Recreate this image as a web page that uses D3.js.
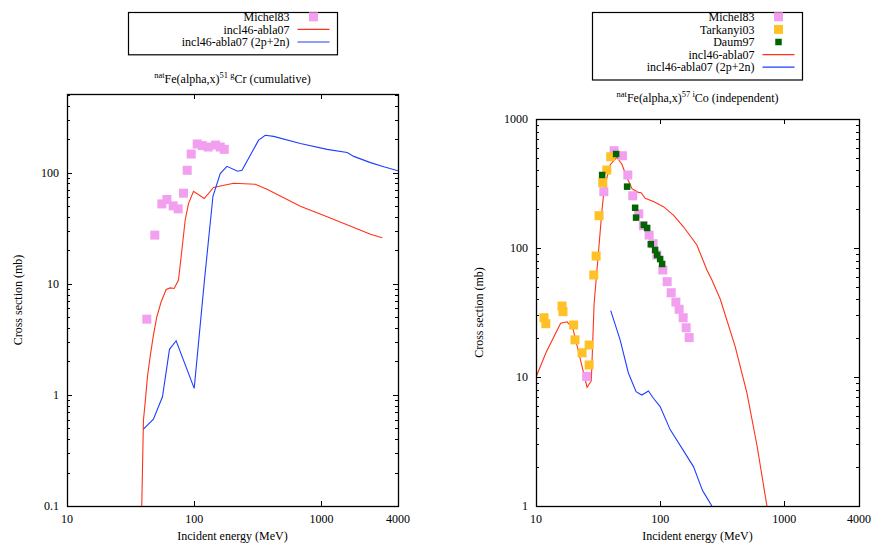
<!DOCTYPE html>
<html>
<head>
<meta charset="utf-8">
<script src="https://cdn.jsdelivr.net/npm/d3@7"></script>
<style>
  html, body { margin: 0; padding: 0; background: #fff; }
  svg { display: block; }
  svg text { font-family: "Liberation Serif", "Times New Roman", Times, "DejaVu Serif", serif; fill: #000; }
</style>
</head>
<body>
<svg id="chart" width="872" height="545" font-family="Liberation Serif, Times New Roman, serif"></svg>
<script>
// ---------------- DATA ----------------
// x ticks (incident energy, MeV)
const xTickValues = [10, 100, 1000, 4000];
const xTickLabels = ["10", "100", "1000", "4000"];
// y ticks
const crYTickValues = [0.1, 1, 10, 100];
const crYTickLabels = ["0.1", "1", "10", "100"];
const coYTickValues = [1, 10, 100, 1000];
const coYTickLabels = ["1", "10", "100", "1000"];

// Left panel: natFe(alpha,x)51gCr (cumulative)   [energy MeV, cross section mb]
const crMichel83 = [[42.4,4.8],[49.0,27.4],[55.7,52.3],[61.0,57.3],[68.3,50.2],[74.8,47.2],[82.4,65.3],[88.1,105],[94.7,147],[105.6,181],[115.6,175],[128.9,170],[147.1,177],[160.2,170],[172.3,162]];
const crIncl = [[38.7,0.1],[39.2,0.211],[39.9,0.593],[41.1,0.839],[42.9,1.455],[45.0,2.2],[47.8,3.45],[50.8,5.04],[55.0,6.88],[60.2,8.89],[64.7,9.18],[69.6,9.07],[75.2,10.8],[80.0,20.0],[84.9,37.3],[90.2,52.7],[98.7,68.0],[119.9,58.5],[141.9,73.5],[203.9,80.3],[302,78.7],[373.6,70.9],[683,49.9],[1109,40.0],[1797,32.1],[2431,27.9],[3006,25.9]];
const crIncl2p2n = [[39.9,0.492],[47.8,0.605],[56.3,0.961],[63.9,2.57],[72.1,3.07],[100,1.144],[120.5,10.9],[140.4,61.3],[160.2,98.2],[180.9,114],[219.3,103],[237.5,105],[320.8,196],[362.3,217],[421.2,212],[683,183],[1109,162],[1594,152],[1797,140],[2431,123],[3095,113],[4000,104]];

// Right panel: natFe(alpha,x)57iCo (independent)
const coMichel83 = [[25.6,10.1],[35.2,273],[42.6,568],[49.7,519],[54.9,368],[60.2,254],[67.3,184],[73.3,149],[81.5,126],[87.8,108],[94.1,88.3],[105.1,67.5],[113.9,54.8],[122.7,45.0],[133.9,38.1],[142.3,33.5],[153.3,28.8],[162.1,24.1],[171.4,20.2]];
const coTarkanyi03 = [[11.6,28.8],[12.0,25.9],[16.2,35.5],[16.5,32.1],[20.1,25.3],[20.6,19.4],[23.5,15.4],[26.8,17.7],[26.8,12.4],[29.2,61.8],[30.5,86.7],[32.2,178],[34.5,321],[37.2,402],[40.0,510]];
const coDaum97 = [[34.1,368],[44.2,535],[54.2,299],[62.9,205],[64.0,172],[73.9,151],[78.6,143],[84.1,107],[91.1,96.5],[94.6,88.3],[100,82.1],[103.8,75.2]];
const coIncl = [[10.0,9.95],[12.0,15.35],[15.8,26.1],[17.8,26.8],[19.8,23.9],[25.8,8.32],[27.9,9.36],[29.4,37.5],[31.0,67.5],[33.9,190],[35.0,258],[36.7,331],[39.5,440],[44.7,505],[49.1,448],[54.2,349],[59.5,287],[66.8,270],[70.3,268],[75.7,243],[88.3,229],[106.3,209],[128.0,180],[154.1,146],[197.7,105.5],[238.1,67.5],[261.2,56.5],[304.7,40.2],[402.5,17.2],[500,7.52],[602,2.97],[725,1.0]];
const coIncl2p2n = [[40.0,32.7],[47.6,19.4],[55.5,10.74],[64.0,7.69],[71.2,7.25],[80.5,7.79],[88.3,6.84],[100,5.89],[120.4,3.91],[159.1,2.56],[185.6,2.02],[220,1.31],[230.6,1.22],[261.2,1.0]];

// Legend / title text
const crTitle = [["nat", true], ["Fe(alpha,x)", false], ["51 g", true], ["Cr (cumulative)", false]];
const coTitle = [["nat", true], ["Fe(alpha,x)", false], ["57 i", true], ["Co (independent)", false]];
const xAxisTitle = "Incident energy (MeV)";
const yAxisTitle = "Cross section (mb)";

// ---------------- STYLES ----------------
const COLORS = { michel: "#f29ff0", tarkanyi: "#ffc125", daum: "#006400", incl: "#ff3318", incl2: "#1f3fff" };
const FONT = "'Liberation Serif', 'Times New Roman', Times, serif";

const svg = d3.select("#chart");
const FS = 12;

function txt(sel) { return sel.append("text").style("font-family", FONT); }

function drawPanel(cfg) {
  const g = svg.append("g");
  const x = d3.scaleLog().domain([10, 4000]).range([cfg.left, cfg.right]);
  const y = d3.scaleLog().domain(cfg.yDomain).range([cfg.bottom, cfg.top]);

  const clipId = "clip" + cfg.id;
  svg.append("clipPath").attr("id", clipId).append("rect")
    .attr("x", cfg.left).attr("y", cfg.top)
    .attr("width", cfg.right - cfg.left).attr("height", cfg.bottom - cfg.top);

  // Y ticks: major + minor, inward, mirrored
  const [y0, y1] = cfg.yDomain;
  const minor = [];
  for (let d = Math.log10(y0); d < Math.log10(y1); d++) {
    for (let k = 2; k <= 9; k++) {
      const v = k * Math.pow(10, d);
      if (v < y1) minor.push(v);
    }
  }
  const tickG = g.append("g").attr("stroke", "#000").attr("stroke-width", 1);
  minor.forEach(v => {
    const yy = Math.round(y(v)) + 0.5;
    tickG.append("line").attr("x1", cfg.left).attr("x2", cfg.left + 3).attr("y1", yy).attr("y2", yy);
    tickG.append("line").attr("x1", cfg.right).attr("x2", cfg.right - 3).attr("y1", yy).attr("y2", yy);
  });
  cfg.yTicks.forEach(v => {
    const yy = Math.round(y(v)) + 0.5;
    tickG.append("line").attr("x1", cfg.left).attr("x2", cfg.left + 5).attr("y1", yy).attr("y2", yy);
    tickG.append("line").attr("x1", cfg.right).attr("x2", cfg.right - 5).attr("y1", yy).attr("y2", yy);
  });
  xTickValues.forEach(v => {
    const xx = Math.round(x(v)) + 0.5;
    tickG.append("line").attr("x1", xx).attr("x2", xx).attr("y1", cfg.bottom).attr("y2", cfg.bottom - 5);
    tickG.append("line").attr("x1", xx).attr("x2", xx).attr("y1", cfg.top).attr("y2", cfg.top + 5);
  });

  // Tick labels
  cfg.yTicks.forEach((v, i) => {
    txt(g).attr("x", cfg.left - 8).attr("y", y(v)).attr("dy", "0.35em")
      .attr("text-anchor", "end").attr("font-size", FS).text(cfg.yLabels[i]);
  });
  xTickValues.forEach((v, i) => {
    txt(g).attr("x", x(v)).attr("y", cfg.bottom + 17)
      .attr("text-anchor", "middle").attr("font-size", FS).text(xTickLabels[i]);
  });

  // Axis titles
  txt(g).attr("x", (cfg.left + cfg.right) / 2).attr("y", 540)
    .attr("text-anchor", "middle").attr("font-size", FS).text(xAxisTitle);
  txt(g)
    .attr("transform", `translate(${cfg.yTitleX},${(cfg.top + cfg.bottom) / 2}) rotate(-90)`)
    .attr("text-anchor", "middle").attr("dy", "0.35em").attr("font-size", FS).text(yAxisTitle);

  // Plot title with superscripts
  const t = txt(g).attr("x", (cfg.left + cfg.right) / 2).attr("y", cfg.titleY)
    .attr("text-anchor", "middle").attr("font-size", FS);
  let prevSup = false;
  cfg.title.forEach(([s, sup]) => {
    const ts = t.append("tspan").text(s).attr("font-size", sup ? 8.5 : FS);
    if (sup && !prevSup) ts.attr("dy", -5);
    if (!sup && prevSup) ts.attr("dy", 5);
    prevSup = sup;
  });

  // Data
  const plot = g.append("g").attr("clip-path", `url(#${clipId})`);
  const line = d3.line().x(d => x(d[0])).y(d => y(d[1]));
  cfg.lines.forEach(s => {
    plot.append("path").datum(s.data).attr("d", line)
      .attr("fill", "none").attr("stroke", s.color).attr("stroke-width", 1.1);
  });
  cfg.points.forEach(s => {
    plot.append("g").selectAll("rect").data(s.data).join("rect")
      .attr("x", d => x(d[0]) - s.size / 2).attr("y", d => y(d[1]) - s.size / 2)
      .attr("width", s.size).attr("height", s.size).attr("fill", s.color);
  });

  // Border
  g.append("rect").attr("x", cfg.left + 0.5).attr("y", cfg.top + 0.5)
    .attr("width", cfg.right - cfg.left).attr("height", cfg.bottom - cfg.top)
    .attr("fill", "none").attr("stroke", "#000").attr("stroke-width", 1.3);

  // Legend
  const L = cfg.legend;
  const entries = cfg.points.map(p => ({ ...p, type: "pt" })).concat(cfg.lines.map(l => ({ ...l, type: "ln" })));
  const lg = g.append("g");
  lg.append("rect").attr("x", L.x0 + 0.5).attr("y", L.y0 + 0.5)
    .attr("width", L.x1 - L.x0).attr("height", 12.6 * entries.length + 4.5)
    .attr("fill", "#fff").attr("stroke", "#000").attr("stroke-width", 1.2);
  entries.forEach((e, i) => {
    const yy = L.y0 + 4.8 + 12.6 * i;
    txt(lg).attr("x", L.textX).attr("y", yy).attr("dy", "0.35em")
      .attr("text-anchor", "end").attr("font-size", FS).text(e.name);
    if (e.type === "pt") {
      lg.append("rect").attr("x", L.markX - e.size / 2).attr("y", yy - e.size / 2)
        .attr("width", e.size).attr("height", e.size).attr("fill", e.color);
    } else {
      lg.append("line").attr("x1", L.markX - 16).attr("x2", L.markX + 16)
        .attr("y1", yy).attr("y2", yy).attr("stroke", e.color).attr("stroke-width", 1.2);
    }
  });
}

drawPanel({
  id: "cr", left: 67, right: 398, top: 94, bottom: 506,
  yDomain: [0.1, 510], yTicks: crYTickValues, yLabels: crYTickLabels,
  yTitleX: 18, titleY: 83, title: crTitle,
  points: [{ name: "Michel83", data: crMichel83, color: COLORS.michel, size: 9 }],
  lines: [
    { name: "incl46-abla07", data: crIncl, color: COLORS.incl },
    { name: "incl46-abla07 (2p+2n)", data: crIncl2p2n, color: COLORS.incl2 }
  ],
  legend: { x0: 128, x1: 337, y0: 12, textX: 289.5, markX: 313.5 }
});

drawPanel({
  id: "co", left: 536, right: 859, top: 119, bottom: 506,
  yDomain: [1, 1000], yTicks: coYTickValues, yLabels: coYTickLabels,
  yTitleX: 479, titleY: 102, title: coTitle,
  points: [
    { name: "Michel83", data: coMichel83, color: COLORS.michel, size: 9 },
    { name: "Tarkanyi03", data: coTarkanyi03, color: COLORS.tarkanyi, size: 9 },
    { name: "Daum97", data: coDaum97, color: COLORS.daum, size: 6.5 }
  ],
  lines: [
    { name: "incl46-abla07", data: coIncl, color: COLORS.incl },
    { name: "incl46-abla07 (2p+2n)", data: coIncl2p2n, color: COLORS.incl2 }
  ],
  legend: { x0: 592, x1: 802, y0: 12, textX: 754.5, markX: 778.5 }
});
</script>
</body>
</html>
